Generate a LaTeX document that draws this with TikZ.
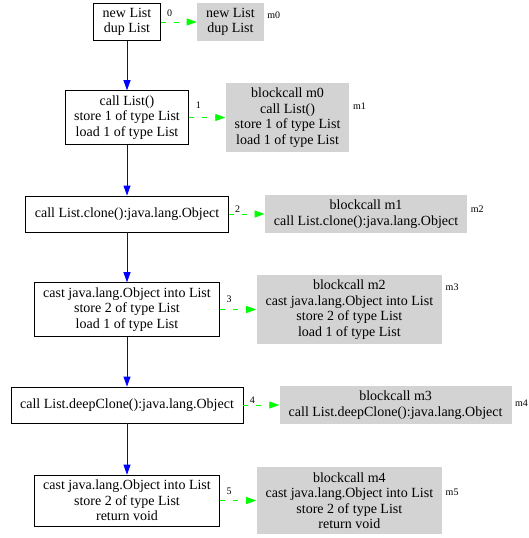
\documentclass[tikz,border=0pt]{standalone}
\usepackage{fontspec}
\setmainfont{Liberation Serif}
\usetikzlibrary{arrows.meta,positioning}
\definecolor{seqblue}{HTML}{0000FF}
\definecolor{callgreen}{HTML}{00FF00}
\definecolor{blockgray}{HTML}{D3D3D3}
\tikzset{
  instr/.style={draw=black,line width=0.8pt,fill=white,inner xsep=9pt,inner ysep=5pt,
    minimum height=36pt,align=center,font=\fontsize{14}{15.5}\selectfont},
  block/.style={instr,draw=none,fill=blockgray},
  seq/.style={-{Triangle[length=10pt,width=7pt]},line width=0.8pt,seqblue},
  callflow/.style={-{Triangle[length=10pt,width=7pt]},line width=0.8pt,callgreen,dash pattern=on 5pt off 8pt},
  num/.style={font=\fontsize{10}{12}\selectfont,inner sep=0pt,text=black,anchor=south},
  tag/.style={font=\fontsize{10}{12}\selectfont,inner sep=0pt,anchor=west}
}
\begin{document}
\begin{tikzpicture}[x=1pt,y=-1pt,node distance=36pt]
\useasboundingbox (0,0) rectangle (528,538);
% instruction blocks
\node[instr] (n0) at (127,22) {new List\\dup List};
\node[instr] (n1) at (127,117.5) {call List()\\store 1 of type List\\load 1 of type List};
\node[instr] (n2) at (127,214) {call List.clone():java.lang.Object};
\node[instr] (n3) at (127,309.5) {cast java.lang.Object into List\\store 2 of type List\\load 1 of type List};
\node[instr] (n4) at (127,405) {call List.deepClone():java.lang.Object};
\node[instr] (n5) at (127,500.5) {cast java.lang.Object into List\\store 2 of type List\\return void};
% method blocks
\node[block,right=of n0] (m0) {new List\\dup List};
\node[block,right=of n1] (m1) {blockcall m0\\call List()\\store 1 of type List\\load 1 of type List};
\node[block,right=of n2] (m2) {blockcall m1\\call List.clone():java.lang.Object};
\node[block,right=of n3] (m3) {blockcall m2\\cast java.lang.Object into List\\store 2 of type List\\load 1 of type List};
\node[block,right=of n4] (m4) {blockcall m3\\call List.deepClone():java.lang.Object};
\node[block,right=of n5] (m5) {blockcall m4\\cast java.lang.Object into List\\store 2 of type List\\return void};
\node[tag] (t0) at ([xshift=3pt,yshift=7pt]m0.east) {m0};
\node[tag] (t1) at ([xshift=3pt,yshift=11pt]m1.east) {m1};
\node[tag] (t2) at ([xshift=3pt,yshift=5pt]m2.east) {m2};
\node[tag] (t3) at ([xshift=3pt,yshift=22pt]m3.east) {m3};
\node[tag] (t4) at ([xshift=3pt,yshift=2pt]m4.east) {m4};
\node[tag] (t5) at ([xshift=3pt,yshift=8pt]m5.east) {m5};
% control flow
\draw[seq] (n0)--(n1);
\draw[seq] (n1)--(n2);
\draw[seq] (n2)--(n3);
\draw[seq] (n3)--(n4);
\draw[seq] (n4)--(n5);
% calls
\draw[callflow] (n0)--node[num,pos=0.25,yshift=5pt] {0} (m0);
\draw[callflow] (n1)--node[num,pos=0.25,yshift=9pt] {1} (m1);
\draw[callflow] (n2)--node[num,pos=0.25,yshift=1.5pt] {2} (m2);
\draw[callflow] (n3)--node[num,pos=0.25,yshift=7pt] {3} (m3);
\draw[callflow] (n4)--node[num,pos=0.25,yshift=1.5pt] {4} (m4);
\draw[callflow] (n5)--node[num,pos=0.25,yshift=6pt] {5} (m5);
\end{tikzpicture}
\end{document}
